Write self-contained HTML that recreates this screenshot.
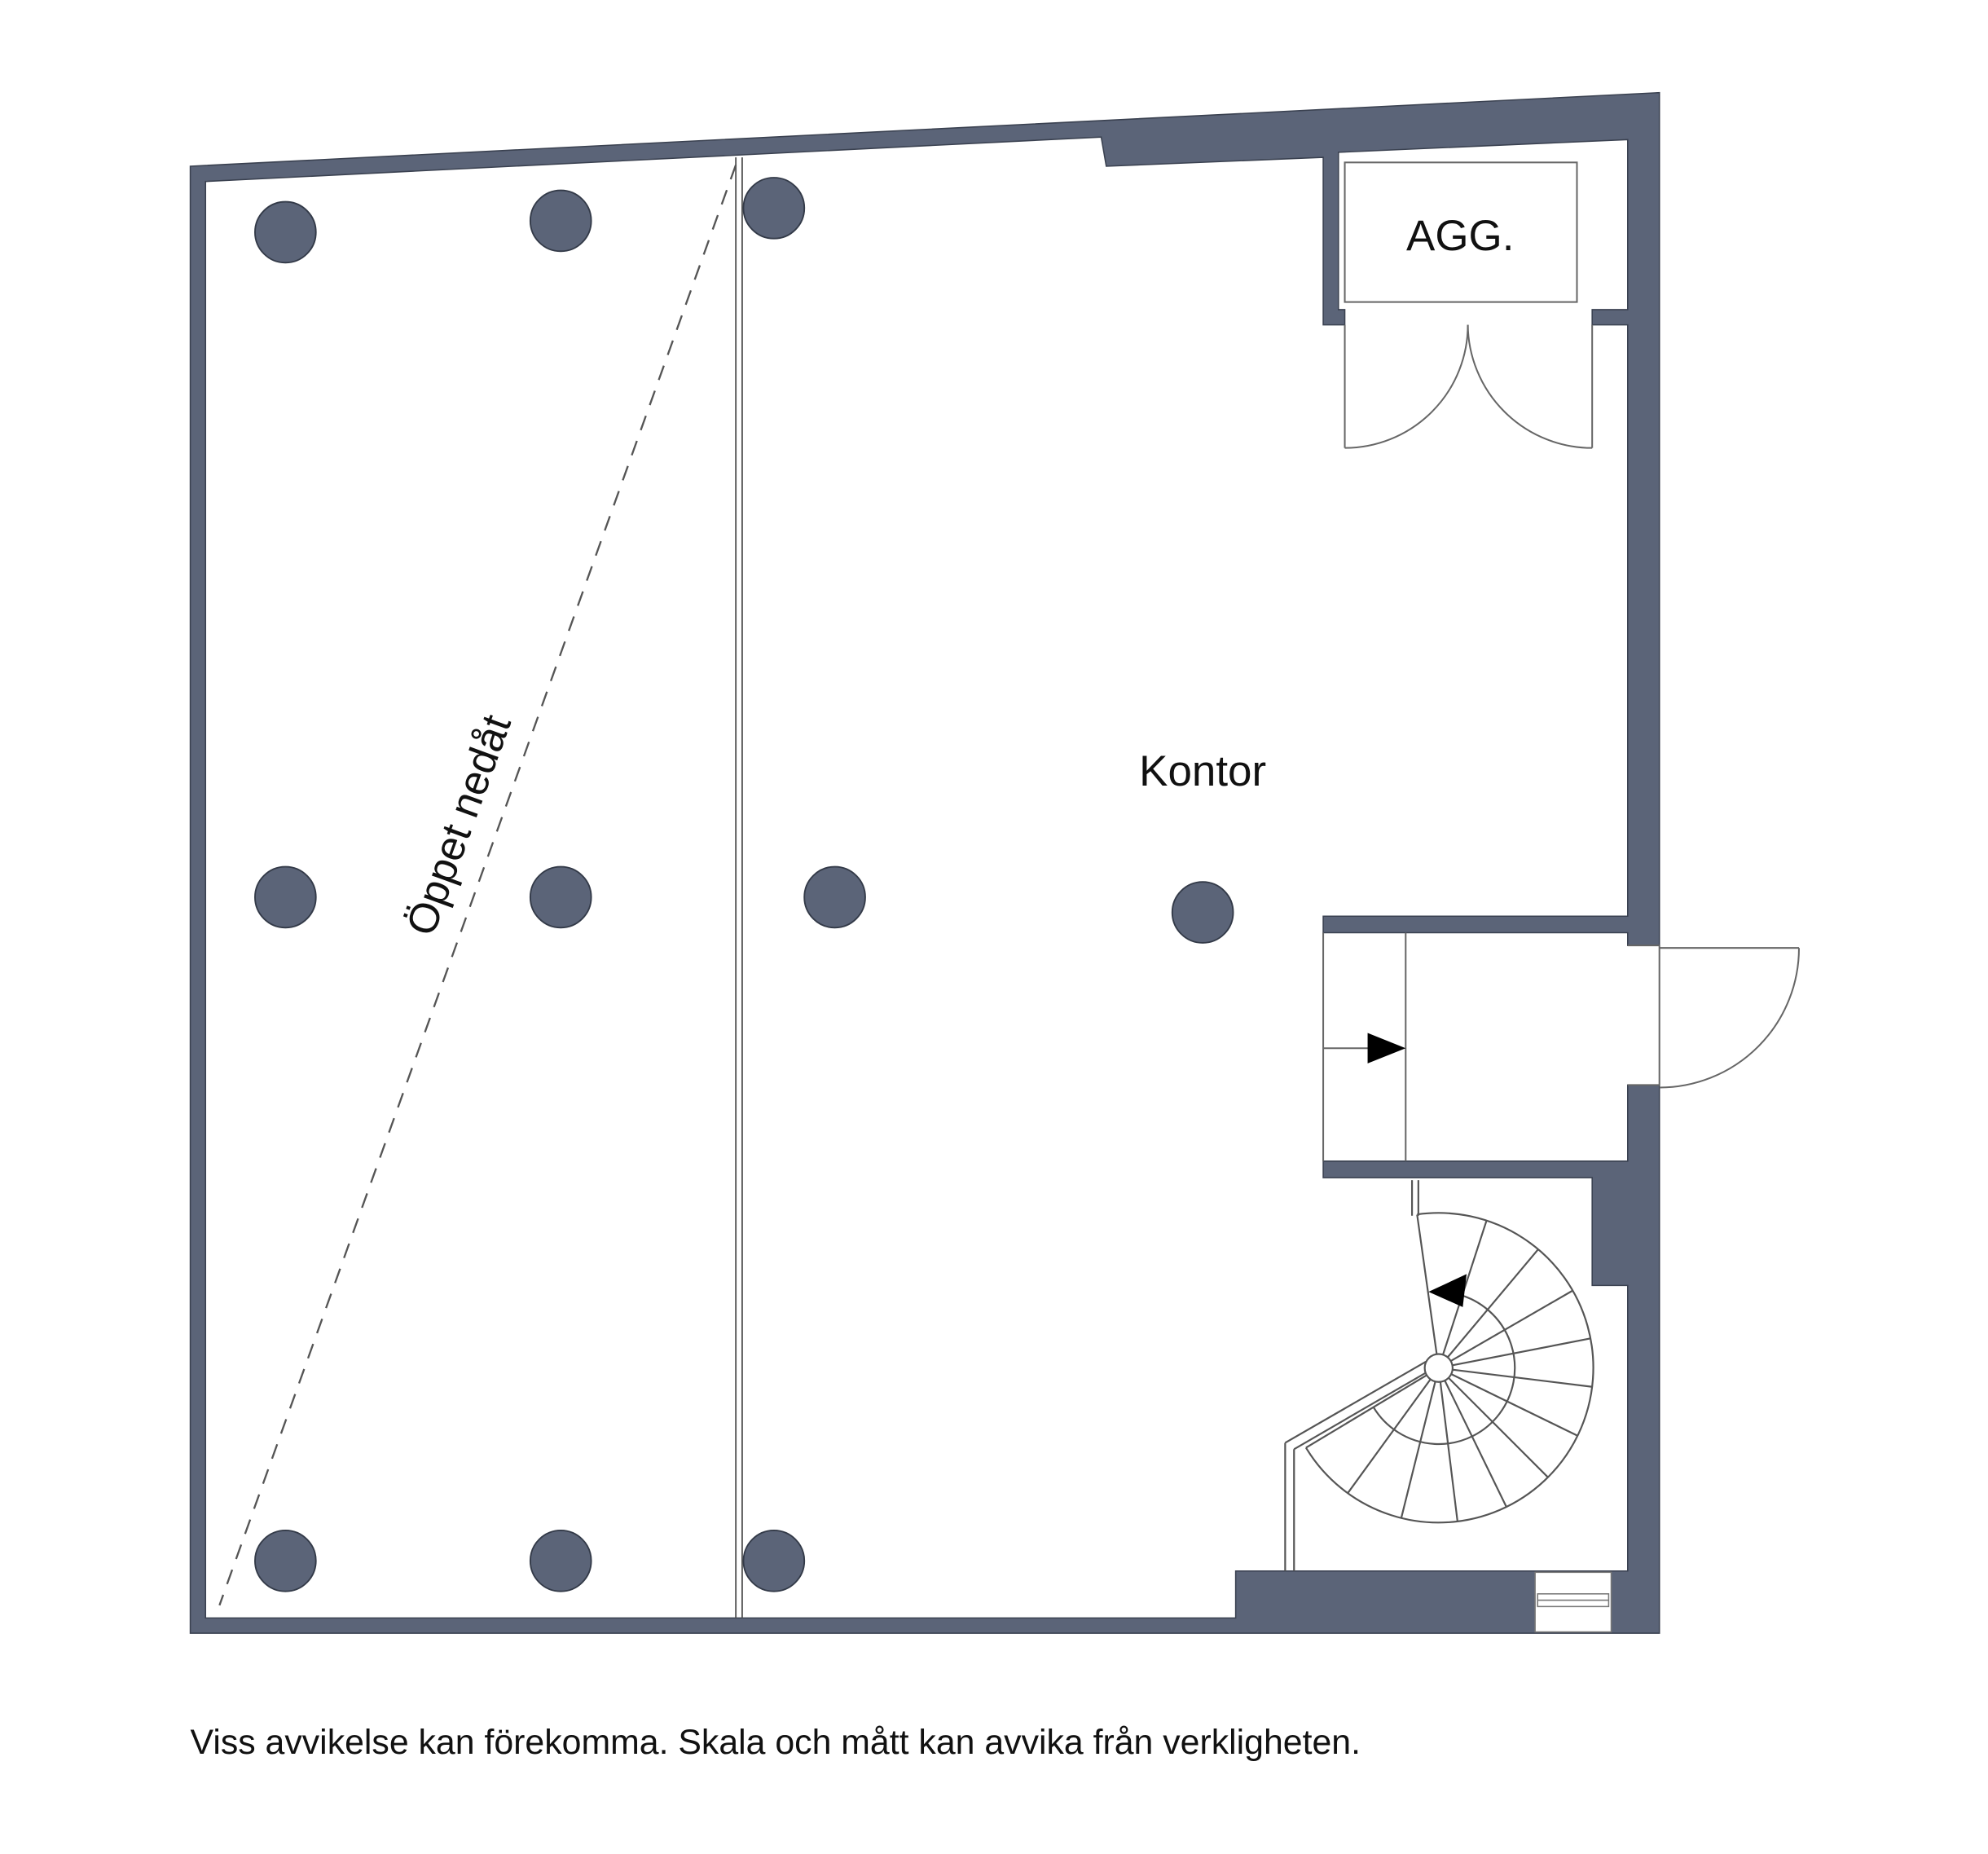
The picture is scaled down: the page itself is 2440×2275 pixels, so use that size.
<!DOCTYPE html>
<html><head><meta charset="utf-8"><style>
html,body{margin:0;padding:0;background:#fff;}
svg{display:block;}
text{font-family:"Liberation Sans",Arial,sans-serif;fill:#111;}
</style></head><body>
<svg width="2440" height="2275" viewBox="0 0 1567 1461" preserveAspectRatio="none" xmlns="http://www.w3.org/2000/svg">
<g fill="#5b6478" stroke="#3a4150" stroke-width="1">
<path fill-rule="evenodd" d="M150,131 L1308,73 L1308,745 L1283,745 L1283,735 L1043,735 L1043,722 L1283,722 L1283,256 L1255,256 L1255,244 L1283,244 L1283,110 L1055,120 L1055,244 L1060,244 L1060,256 L1043,256 L1043,124 L872,131 L868,108 L162,143 L162,1275 L974,1275 L974,1238 L1283,1238 L1283,1013 L1255,1013 L1255,928 L1043,928 L1043,915 L1283,915 L1283,855 L1308,855 L1308,1287 L150,1287 Z"/>
</g>
<rect x="1210" y="1239" width="60" height="47" fill="#fff" stroke="#777" stroke-width="1"/>
<rect x="1212" y="1256" width="56" height="10" fill="none" stroke="#777" stroke-width="1"/>
<line x1="1212" y1="1261" x2="1268" y2="1261" stroke="#777" stroke-width="1"/>
<line x1="580" y1="124" x2="580" y2="1275" stroke="#555" stroke-width="1.2"/>
<line x1="585" y1="124" x2="585" y2="1275" stroke="#555" stroke-width="1.2"/>
<line x1="580" y1="130" x2="173" y2="1265" stroke="#555" stroke-width="1.5" stroke-dasharray="12,9"/>
<g fill="#5b6478" stroke="#333a48" stroke-width="1.2">
<circle cx="225" cy="183" r="24"/><circle cx="442" cy="174" r="24"/><circle cx="610" cy="164" r="24"/>
<circle cx="225" cy="707" r="24"/><circle cx="442" cy="707" r="24"/><circle cx="658" cy="707" r="24"/>
<circle cx="948" cy="719" r="24"/>
<circle cx="225" cy="1230" r="24"/><circle cx="442" cy="1230" r="24"/><circle cx="610" cy="1230" r="24"/>
</g>
<rect x="1060" y="128" width="183" height="110" fill="#fff" stroke="#666" stroke-width="1.3"/>
<text x="1151" y="197" font-size="34" text-anchor="middle">AGG.</text>
<g fill="none" stroke="#666" stroke-width="1.3">
<line x1="1060" y1="256" x2="1060" y2="353"/>
<line x1="1255" y1="256" x2="1255" y2="353"/>
<path d="M1060,353 A97,97 0 0 0 1157,256"/>
<path d="M1255,353 A98,98 0 0 1 1157,256"/>
<line x1="1043" y1="735" x2="1043" y2="915"/>
<line x1="1108" y1="735" x2="1108" y2="915"/>
<line x1="1043" y1="826" x2="1080" y2="826"/>
<line x1="1308" y1="745" x2="1308" y2="855"/>
<line x1="1308" y1="747" x2="1418" y2="747"/>
<path d="M1418,747 A110,110 0 0 1 1308,857"/>
<line x1="1283" y1="745" x2="1308" y2="745"/>
<line x1="1283" y1="855" x2="1308" y2="855"/>
</g>
<polygon points="1078,814 1108,826 1078,838" fill="#000"/>
<g fill="none" stroke="#555" stroke-width="1.4">
<path d="M1117,957 A122,122 0 1 1 1029.4,1140.8"/>
<path d="M1149.5,1020 A60,60 0 1 1 1082.6,1108.9"/>
<line x1="1113" y1="930" x2="1113" y2="958"/>
<line x1="1118" y1="930" x2="1118" y2="958"/>
<line x1="1124" y1="1073" x2="1013" y2="1137"/>
<line x1="1013" y1="1137" x2="1013" y2="1238"/>
<line x1="1127" y1="1080" x2="1020" y2="1142"/>
<line x1="1020" y1="1142" x2="1020" y2="1238"/>
<g transform="translate(1134,1078)">
<circle r="11" fill="#fff"/>
<line x1="11" x2="122" transform="rotate(-98)"/>
<line x1="11" x2="122" transform="rotate(-72)"/>
<line x1="11" x2="122" transform="rotate(-50)"/>
<line x1="11" x2="122" transform="rotate(-30)"/>
<line x1="11" x2="122" transform="rotate(-11)"/>
<line x1="11" x2="122" transform="rotate(7)"/>
<line x1="11" x2="122" transform="rotate(26)"/>
<line x1="11" x2="122" transform="rotate(45)"/>
<line x1="11" x2="122" transform="rotate(64)"/>
<line x1="11" x2="122" transform="rotate(83)"/>
<line x1="11" x2="122" transform="rotate(104)"/>
<line x1="11" x2="122" transform="rotate(126)"/>
<line x1="11" x2="122" transform="rotate(149)"/>
</g>
</g>
<polygon points="1126,1018 1156,1004 1153,1030" fill="#000"/>
<text x="948" y="619" font-size="34" text-anchor="middle">Kontor</text>
<text transform="translate(372,654) rotate(-70)" font-size="33" text-anchor="middle">Öppet nedåt</text>
<text x="150" y="1382" font-size="27.5">Viss avvikelse kan förekomma. Skala och mått kan avvika från verkligheten.</text>
</svg>
</body></html>
